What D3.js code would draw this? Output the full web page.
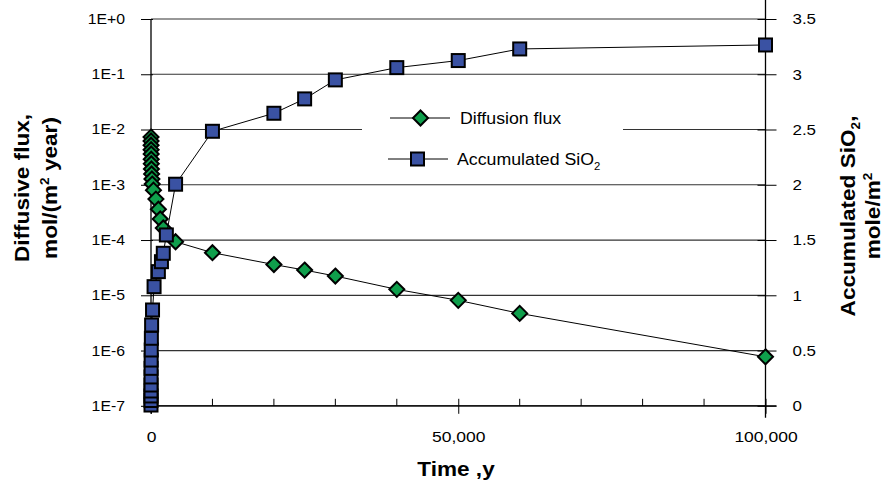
<!DOCTYPE html>
<html><head><meta charset="utf-8">
<script src="https://cdn.jsdelivr.net/npm/d3@7/dist/d3.min.js"></script>
<style>
body{margin:0;background:#fff;}
text{font-family:"Liberation Sans",Arial,sans-serif;fill:#000;}
</style></head>
<body>
<svg id="chart" width="885" height="486"></svg>
<script>
// ---- data ----
const fluxTime  = [5,10,15,20,30,40,50,70,100,150,200,400,800,1200,1500,2000,4000,10000,20000,25000,30000,40000,50000,60000,100000];
const fluxValue = [7.3e-3,6.2e-3,5.2e-3,4.3e-3,3.6e-3,2.9e-3,2.4e-3,1.93e-3,1.57e-3,1.27e-3,1.03e-3,8.0e-4,5.5e-4,3.6e-4,2.4e-4,1.65e-4,9.3e-5,5.9e-5,3.6e-5,2.86e-5,2.23e-5,1.28e-5,8.1e-6,4.7e-6,7.7e-7];
const sio2Time  = [0.2,1,2,3.5,6,10,15,25,40,60,100,250,500,1200,1700,2000,2500,4000,10000,20000,25000,30000,40000,50000,60000,100000];
const sio2Value = [0.007,0.048,0.089,0.134,0.188,0.261,0.339,0.414,0.505,0.611,0.731,0.867,1.078,1.214,1.304,1.380,1.546,2.005,2.484,2.647,2.777,2.949,3.060,3.124,3.229,3.265];
const xTicks = [0,50000,100000];
const xMinorTicks = [10000,20000,30000,40000,60000,70000,80000,90000];
const yLeftTicks = [1,1e-1,1e-2,1e-3,1e-4,1e-5,1e-6,1e-7];
const yLeftLabels = ["1E+0","1E-1","1E-2","1E-3","1E-4","1E-5","1E-6","1E-7"];
const yRightTicks = [0,0.5,1,1.5,2,2.5,3,3.5];
const seriesNames = ["Diffusion flux","Accumulated SiO"];

// ---- layout ----
const L=151, R=765.5, T=19, B=405.8, SX=1.13;
const svg=d3.select("#chart");
const x=d3.scaleLinear().domain([0,100000]).range([L,R]);
const yL=d3.scaleLog().domain([1e-7,1]).range([B,T]);
const yR=d3.scaleLinear().domain([0,3.5]).range([B,T]);
const green="#0f9f4c", blue="#3a52a3";

// horizontal stretch of text about its anchor x
function stretch(sel){
  sel.each(function(){
    const t=d3.select(this);
    const x0=+(t.attr("x")||0);
    t.attr("transform",`translate(${x0},0) scale(${SX},1) translate(${-x0},0)`);
  });
}

// gridlines
svg.append("g").selectAll("line").data(yLeftTicks).join("line")
  .attr("x1",L).attr("x2",R).attr("y1",d=>yL(d)).attr("y2",d=>yL(d))
  .attr("stroke","#333").attr("stroke-width",1.2);

// left axis
const gL=svg.append("g").attr("transform",`translate(${L},0)`)
  .call(d3.axisLeft(yL).tickValues(yLeftTicks).tickFormat((d,i)=>yLeftLabels[i]).tickSize(10).tickPadding(16));
gL.select(".domain").remove();
gL.selectAll("line").attr("stroke","#000").attr("x2",-10).attr("x1",2);
gL.selectAll("text").style("font-size","14px").call(stretch);
svg.append("line").attr("x1",L).attr("x2",L).attr("y1",T).attr("y2",B+8).attr("stroke","#000").attr("stroke-width",1.3);

// right axis
const gR=svg.append("g").attr("transform",`translate(${R},0)`)
  .call(d3.axisRight(yR).tickValues(yRightTicks).tickFormat(d3.format("")).tickSize(11).tickPadding(16));
gR.select(".domain").remove();
gR.selectAll("line").attr("stroke","#000").attr("x1",-8);
gR.selectAll("text").style("font-size","15px").call(stretch);
svg.append("line").attr("x1",R).attr("x2",R).attr("y1",0).attr("y2",B+12).attr("stroke","#000").attr("stroke-width",1.3);

// x axis
svg.append("line").attr("x1",L).attr("x2",R+11).attr("y1",B).attr("y2",B).attr("stroke","#000").attr("stroke-width",1.3);
const gX=svg.append("g").attr("transform",`translate(0,${B})`)
  .call(d3.axisBottom(x).tickValues(xTicks).tickFormat(d3.format(",")).tickSize(8).tickPadding(17));
gX.select(".domain").remove();
gX.selectAll("line").attr("stroke","#000").attr("y1",-7);
gX.selectAll("text").style("font-size","15.5px").call(stretch);
svg.append("g").selectAll("line").data(xMinorTicks).join("line")
  .attr("x1",d=>x(d)).attr("x2",d=>x(d)).attr("y1",B-7).attr("y2",B).attr("stroke","#000");

// legend background
svg.append("rect").attr("x",362).attr("y",100).attr("width",261).attr("height",75).attr("fill","#fff");

// series: flux
const lineF=d3.line().x((d,i)=>x(fluxTime[i])).y(d=>yL(d));
svg.append("path").attr("d",lineF(fluxValue)).attr("fill","none").attr("stroke","#000").attr("stroke-width",1);
const diamond="M0,-7.5L7.5,0L0,7.5L-7.5,0Z";
svg.append("g").selectAll("path").data(fluxValue).join("path")
  .attr("d",diamond).attr("transform",(d,i)=>`translate(${x(fluxTime[i])},${yL(d)})`)
  .attr("fill",green).attr("stroke","#000").attr("stroke-width",2);

// series: SiO2
const lineS=d3.line().x((d,i)=>x(sio2Time[i])).y(d=>yR(d));
svg.append("path").attr("d",lineS(sio2Value)).attr("fill","none").attr("stroke","#000").attr("stroke-width",1);
svg.append("g").selectAll("rect").data(sio2Value).join("rect")
  .attr("x",(d,i)=>x(sio2Time[i])-6.5).attr("y",d=>yR(d)-6.5).attr("width",13).attr("height",13)
  .attr("fill",blue).attr("stroke","#000").attr("stroke-width",2);

// legend
const lg=svg.append("g");
lg.append("line").attr("x1",390).attr("x2",450).attr("y1",118).attr("y2",118).attr("stroke","#000");
lg.append("path").attr("d",diamond).attr("transform","translate(420.5,118)").attr("fill",green).attr("stroke","#000").attr("stroke-width",2);
lg.append("text").attr("x",460).attr("y",124).style("font-size","15.7px").text(seriesNames[0]).call(stretch);
lg.append("line").attr("x1",388).attr("x2",448).attr("y1",159).attr("y2",159).attr("stroke","#000");
lg.append("rect").attr("x",411).attr("y",152.5).attr("width",13).attr("height",13).attr("fill",blue).attr("stroke","#000").attr("stroke-width",2);
const t2=lg.append("text").attr("x",457).attr("y",165).style("font-size","15.7px").text(seriesNames[1]);
t2.append("tspan").attr("dy",5).style("font-size","10px").text("2");
t2.call(stretch);

// axis titles
svg.append("text").attr("x",456).attr("y",476).attr("text-anchor","middle").style("font-size","20px").style("font-weight","bold").text("Time ,y").call(stretch);
const lt=svg.append("text").attr("transform",`translate(0,188) rotate(-90) scale(${SX},1)`).attr("text-anchor","middle").style("font-size","20px").style("font-weight","bold");
lt.append("tspan").attr("x",0).attr("y",29).text("Diffusive flux,");
lt.append("tspan").attr("x",0).attr("y",57).text("mol/(m");
lt.append("tspan").attr("dy",-8).style("font-size","12px").text("2");
lt.append("tspan").attr("dy",8).text(" year)");
const rt=svg.append("text").attr("transform",`translate(0,216) rotate(-90) scale(${SX},1)`).attr("text-anchor","middle").style("font-size","20px").style("font-weight","bold");
rt.append("tspan").attr("x",0).attr("y",855).text("Accumulated SiO");
rt.append("tspan").attr("dy",5).style("font-size","12px").text("2");
rt.append("tspan").attr("dy",-5).text(",");
rt.append("tspan").attr("x",0).attr("y",880.5).text("mole/m");
rt.append("tspan").attr("dy",-8).style("font-size","12px").text("2");
</script>
</body></html>
